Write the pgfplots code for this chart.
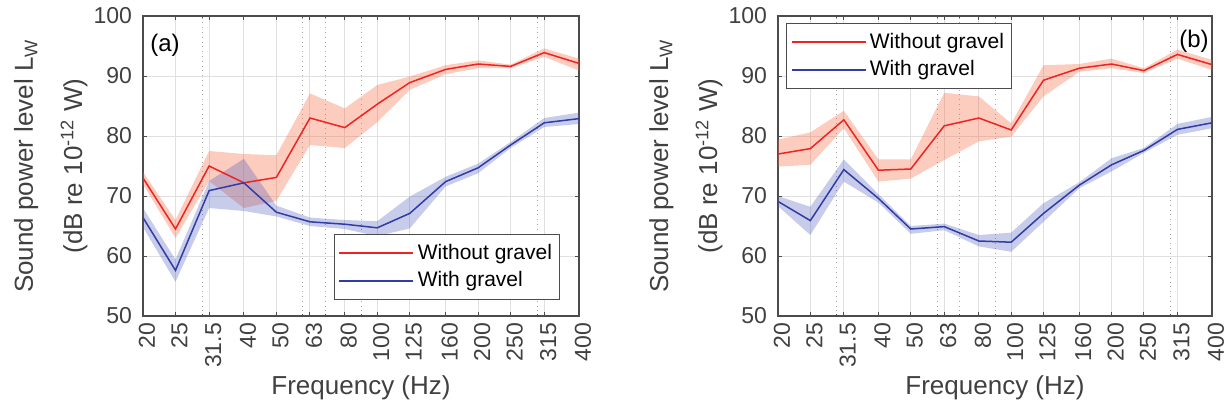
\documentclass[border=0pt]{standalone}
\usepackage{fontspec}
\setmainfont{Liberation Sans}
\usepackage{pgfplots}
\pgfplotsset{compat=1.18}

\definecolor{lnred}{RGB}{240,35,35}
\definecolor{lnblue}{RGB}{50,60,165}
\definecolor{bandred}{RGB}{245,110,70}
\definecolor{bandblue}{RGB}{70,85,185}
\definecolor{txt}{RGB}{64,64,64}

\pgfplotsset{
  every tick/.style={black!70, line width=0.5pt},
}

\begin{document}
\begin{tikzpicture}
% ---------- (a) ----------
\begin{axis}[name=A, scale only axis, width=218pt, height=150pt,
  at={(0pt,0pt)}, anchor=south west,
  xmode=log, xmin=20, xmax=400, ymin=50, ymax=100,
  xtick={20,25,31.5,40,50,63,80,100,125,160,200,250,315,400},
  xticklabels={20,25,31.5,40,50,63,80,100,125,160,200,250,315,400},
  minor xtick={30,60,70,90,300},
  ytick={50,60,70,80,90,100},
  grid=both,
  major grid style={black!12, line width=0.5pt},
  minor grid style={black!35, dotted, line width=0.5pt},
  tick align=inside, tick pos=both,
  major tick length=2.2pt, minor tick length=1.2pt,
  axis line style={black!70, line width=0.6pt},
  /pgf/number format/assume math mode=true,
  xticklabel style={rotate=90, anchor=east, yshift=-2pt,
    font=\fontsize{11.5}{13}\selectfont, text=txt},
  yticklabel style={xshift=-2pt, font=\fontsize{11.5}{13}\selectfont, text=txt},
  xlabel={Frequency (Hz)},
  xlabel style={at={(axis description cs:0.5,0)}, anchor=center, yshift=-36pt,
    font=\fontsize{13}{15}\selectfont, text=txt},
  legend cell align=left,
  legend image code/.code={\draw[#1] (0pt,0pt) -- (37pt,0pt);},
  legend style={at={(0.956,0.053)}, anchor=south east,
    font=\fontsize{10.5}{12}\selectfont, draw=black!70,
    line width=0.6pt, inner xsep=2pt, inner ysep=2.5pt,
    nodes={inner xsep=1.6pt, inner ysep=2.3pt}}]
\addlegendimage{draw=lnred, line width=1.1pt}
\addlegendentry{Without gravel}
\addlegendimage{draw=lnblue, line width=1.1pt}
\addlegendentry{With gravel}
% without gravel: band (upper edge, then lower edge back)
\addplot[fill=bandred, fill opacity=0.35, draw=none, forget plot] coordinates {
  (20,74.0)(25,66.0)(31.5,77.5)(40,77.0)(50,76.8)(63,87.1)(80,84.6)
  (100,88.5)(125,89.9)(160,91.8)(200,92.6)(250,91.9)(315,94.6)(400,92.9)
  (400,90.9)(315,93.2)(250,91.3)(200,91.3)(160,90.3)(125,87.7)(100,82.3)
  (80,78.0)(63,78.5)(50,69.2)(40,68.0)(31.5,72.5)(25,63.0)(20,72.0)} --cycle;
% with gravel: band
\addplot[fill=bandblue, fill opacity=0.3, draw=none, forget plot] coordinates {
  (20,68.0)(25,59.4)(31.5,72.5)(40,76.2)(50,68.4)(63,66.4)(80,66.0)
  (100,65.8)(125,69.9)(160,73.2)(200,75.4)(250,79.0)(315,83.0)(400,83.9)
  (400,82.0)(315,81.5)(250,78.0)(200,73.8)(160,71.6)(125,64.6)(100,63.3)
  (80,64.5)(63,65.0)(50,66.6)(40,67.5)(31.5,68.0)(25,55.7)(20,64.8)} --cycle;
\addplot[lnred, line width=0.75pt, forget plot] coordinates {
  (20,73.0)(25,64.5)(31.5,75.0)(40,72.2)(50,73.1)(63,83.0)(80,81.4)
  (100,85.3)(125,88.9)(160,91.1)(200,92.0)(250,91.6)(315,93.9)(400,92.1)};
\addplot[lnblue, line width=0.75pt, forget plot] coordinates {
  (20,66.4)(25,57.6)(31.5,70.9)(40,72.2)(50,67.3)(63,65.7)(80,65.3)
  (100,64.7)(125,67.1)(160,72.4)(200,74.7)(250,78.5)(315,82.2)(400,82.9)};
\end{axis}

% ---------- (b) ----------
\begin{axis}[name=B, scale only axis, width=217pt, height=150pt,
  at={(317.5pt,0pt)}, anchor=south west,
  xmode=log, xmin=20, xmax=400, ymin=50, ymax=100,
  xtick={20,25,31.5,40,50,63,80,100,125,160,200,250,315,400},
  xticklabels={20,25,31.5,40,50,63,80,100,125,160,200,250,315,400},
  minor xtick={30,60,70,90,300},
  ytick={50,60,70,80,90,100},
  grid=both,
  major grid style={black!12, line width=0.5pt},
  minor grid style={black!35, dotted, line width=0.5pt},
  tick align=inside, tick pos=both,
  major tick length=2.2pt, minor tick length=1.2pt,
  axis line style={black!70, line width=0.6pt},
  /pgf/number format/assume math mode=true,
  xticklabel style={rotate=90, anchor=east, yshift=-2pt,
    font=\fontsize{11.5}{13}\selectfont, text=txt},
  yticklabel style={xshift=-2pt, font=\fontsize{11.5}{13}\selectfont, text=txt},
  xlabel={Frequency (Hz)},
  xlabel style={at={(axis description cs:0.5,0)}, anchor=center, yshift=-36pt,
    font=\fontsize{13}{15}\selectfont, text=txt},
  legend cell align=left,
  legend image code/.code={\draw[#1] (0pt,0pt) -- (37pt,0pt);},
  legend style={at={(0.018,0.977)}, anchor=north west,
    font=\fontsize{10.5}{12}\selectfont, draw=black!70,
    line width=0.6pt, inner xsep=2pt, inner ysep=2.5pt,
    nodes={inner xsep=1.6pt, inner ysep=2.3pt}}]
\addlegendimage{draw=lnred, line width=1.1pt}
\addlegendentry{Without gravel}
\addlegendimage{draw=lnblue, line width=1.1pt}
\addlegendentry{With gravel}
\addplot[fill=bandred, fill opacity=0.35, draw=none, forget plot] coordinates {
  (20,79.4)(25,80.6)(31.5,84.2)(40,76.1)(50,76.1)(63,87.2)(80,86.6)
  (100,82.1)(125,91.8)(160,92.0)(200,92.9)(250,91.3)(315,94.4)(400,92.7)
  (400,91.0)(315,92.9)(250,90.5)(200,91.3)(160,90.7)(125,86.6)(100,79.9)
  (80,79.1)(63,76.0)(50,72.9)(40,72.4)(31.5,81.3)(25,75.2)(20,74.9)} --cycle;
\addplot[fill=bandblue, fill opacity=0.3, draw=none, forget plot] coordinates {
  (20,70.0)(25,68.2)(31.5,76.1)(40,70.3)(50,65.0)(63,65.4)(80,63.5)
  (100,63.9)(125,68.8)(160,72.3)(200,76.3)(250,78.0)(315,82.0)(400,83.2)
  (400,81.3)(315,80.2)(250,77.2)(200,74.1)(160,71.3)(125,65.7)(100,60.7)
  (80,61.6)(63,64.3)(50,63.7)(40,68.9)(31.5,72.4)(25,63.5)(20,68.3)} --cycle;
\addplot[lnred, line width=0.75pt, forget plot] coordinates {
  (20,77.0)(25,77.9)(31.5,82.7)(40,74.3)(50,74.5)(63,81.7)(80,83.0)
  (100,81.0)(125,89.3)(160,91.3)(200,92.0)(250,90.9)(315,93.6)(400,91.9)};
\addplot[lnblue, line width=0.75pt, forget plot] coordinates {
  (20,69.1)(25,65.9)(31.5,74.4)(40,69.6)(50,64.5)(63,64.9)(80,62.5)
  (100,62.3)(125,67.1)(160,71.8)(200,75.2)(250,77.6)(315,81.1)(400,82.2)};
\end{axis}

\foreach \p in {A,B}{
  \node[rotate=90, anchor=base, text=txt, font=\fontsize{13}{15}\selectfont]
    at ([xshift=-55pt]\p.west) {Sound power level L\textsubscript{W}};
  \node[rotate=90, anchor=base, text=txt, font=\fontsize{13}{15}\selectfont]
    at ([xshift=-30.5pt]\p.west) {(dB re 10\textsuperscript{-12} W)};
}
\node[font=\fontsize{12}{14}\selectfont] at ([xshift=11pt,yshift=-14.5pt]A.north west) {(a)};
\node[font=\fontsize{12}{14}\selectfont] at ([xshift=-9pt,yshift=-12.5pt]B.north east) {(b)};

\pgfresetboundingbox
\useasboundingbox (-71.5pt,-46.5pt) rectangle (541.5pt,158pt);
\end{tikzpicture}
\end{document}
